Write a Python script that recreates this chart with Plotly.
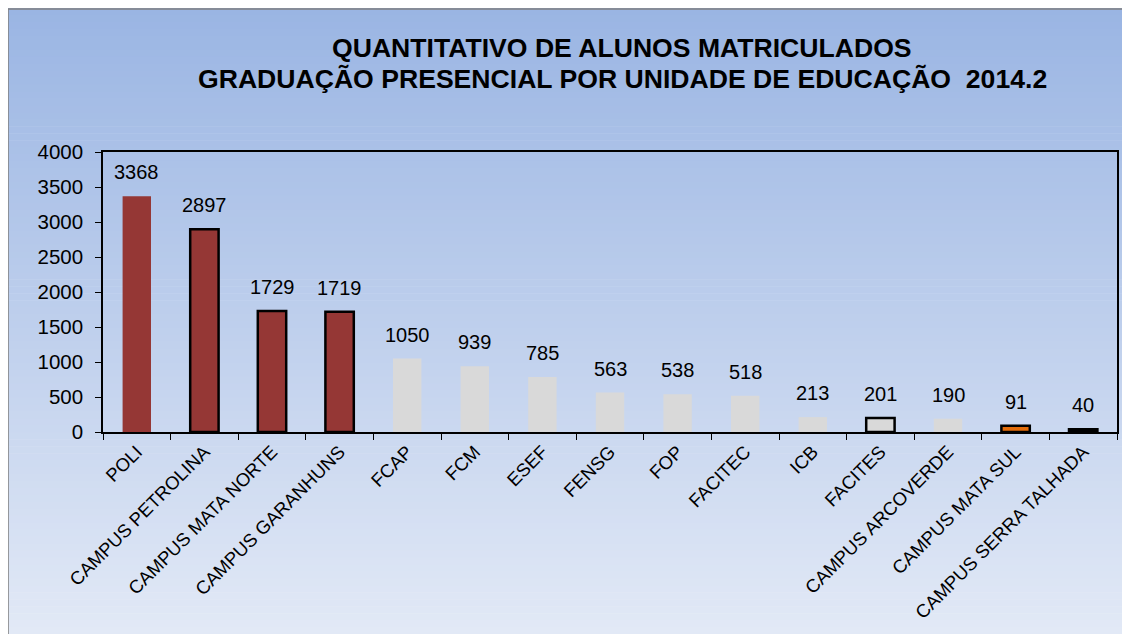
import plotly.graph_objects as go

categories = ["POLI", "CAMPUS PETROLINA", "CAMPUS MATA NORTE", "CAMPUS GARANHUNS",
              "FCAP", "FCM", "ESEF", "FENSG", "FOP", "FACITEC", "ICB", "FACITES",
              "CAMPUS ARCOVERDE", "CAMPUS MATA SUL", "CAMPUS SERRA TALHADA"]
values = [3368, 2897, 1729, 1719, 1050, 939, 785, 563, 538, 518, 213, 201, 190, 91, 40]
bar_colors = ["#953735", "#953735", "#953735", "#953735",
              "#D9D9D9", "#D9D9D9", "#D9D9D9", "#D9D9D9", "#D9D9D9", "#D9D9D9",
              "#D9D9D9", "#D9D9D9", "#D9D9D9", "#E46C0A", "#000000"]
outline_widths = [0, 2.5, 2.5, 2.5, 0, 0, 0, 0, 0, 0, 0, 2.5, 0, 2.5, 2.5]
y_ticks = [0, 500, 1000, 1500, 2000, 2500, 3000, 3500, 4000]
title_lines = ["QUANTITATIVO DE ALUNOS MATRICULADOS",
               "GRADUAÇÃO PRESENCIAL POR UNIDADE DE EDUCAÇÃO  2014.2"]

# page body has an 8px margin; figure occupies (8,8)-(1130,634)
OFF = 8
W, H = 1130 - OFF, 634 - OFF
L, R, T, B = 103 - OFF, 13, 152 - OFF, 202
pw = W - L - R
ph = H - T - B

def px_x(x):
    return (x - OFF - L) / pw

def px_y(y):
    return (H - B - (y - OFF)) / ph

fig = go.Figure()
fig.add_trace(go.Bar(
    x=categories, y=values,
    marker=dict(color=bar_colors, line=dict(color="#000000", width=outline_widths)),
    width=0.42, hoverinfo="x+y",
))

shapes = []
top_c = (154, 181, 227)
bot_c = (226, 233, 246)
y0p, y1p = OFF, 634
n = 90
for i in range(n):
    a = y0p + (y1p - y0p) * i / n
    b = y0p + (y1p - y0p) * (i + 1) / n
    t = (i + 0.5) / n
    c = tuple(round(top_c[k] + (bot_c[k] - top_c[k]) * t) for k in range(3))
    shapes.append(dict(type="rect", xref="paper", yref="paper", layer="below",
                       x0=px_x(OFF - 2), x1=px_x(1132), y0=px_y(b + 0.6), y1=px_y(a),
                       fillcolor="rgb(%d,%d,%d)" % c, line=dict(width=0)))
# outer border lines (top and left)
shapes.append(dict(type="line", xref="paper", yref="paper", layer="below",
                   x0=px_x(OFF), x1=px_x(1132), y0=px_y(OFF + 1), y1=px_y(OFF + 1),
                   line=dict(color="#7F7F7F", width=1.5)))
shapes.append(dict(type="line", xref="paper", yref="paper", layer="below",
                   x0=px_x(OFF), x1=px_x(OFF), y0=px_y(OFF + 1), y1=px_y(636),
                   line=dict(color="#7F7F7F", width=1.5)))

annotations = []
for c, v in zip(categories, values):
    annotations.append(dict(x=c, y=v, xref="x", yref="y", text=str(v), showarrow=False,
                            yanchor="bottom", yshift=11,
                            font=dict(family="Liberation Sans, Arial", size=20, color="#000000")))
for line_text, cy in zip(title_lines, [48, 79]):
    annotations.append(dict(x=px_x(622), y=px_y(cy), xref="paper", yref="paper",
                            text="<b>" + line_text + "</b>",
                            showarrow=False, xanchor="center", yanchor="middle",
                            font=dict(family="Liberation Sans, Arial", size=26.6, color="#000000")))

fig.update_layout(
    width=W, height=H,
    margin=dict(l=L, r=R, t=T, b=B, pad=0),
    paper_bgcolor="#FFFFFF",
    plot_bgcolor="#FFFFFF",
    showlegend=False,
    bargap=0.58,
    shapes=shapes,
    annotations=annotations,
    font=dict(family="Liberation Sans, Arial", color="#000000"),
    xaxis=dict(showline=True, linecolor="#000000", linewidth=1.5, mirror=True,
               ticks="outside", tickson="boundaries", ticklen=6, tickcolor="#000000",
               tickangle=-45, tickfont=dict(size=18.5), showgrid=False),
    yaxis=dict(range=[0, 4000], tickvals=y_ticks, showline=True, linecolor="#000000",
               linewidth=1.5, mirror=True, ticks="outside", ticklen=6, tickcolor="#000000",
               tickfont=dict(size=20.5), ticklabelstandoff=8, showgrid=False, zeroline=False),
)

fig.write_html("out.html")
